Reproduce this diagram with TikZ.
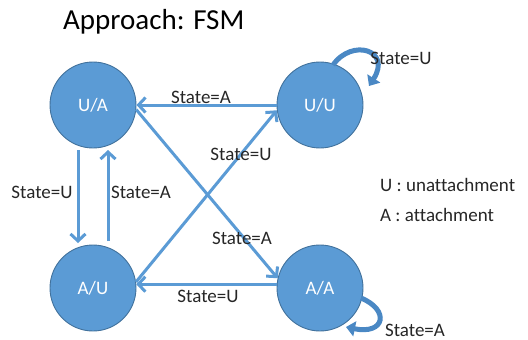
\documentclass[tikz,border=0pt]{standalone}
\usepackage{fontspec}
\setmainfont{Carlito}[Ligatures=NoCommon]
\usetikzlibrary{arrows.meta}
\definecolor{statefill}{HTML}{5B9BD5}
\definecolor{stateedge}{HTML}{41719C}
\definecolor{loopblue}{HTML}{4A88C4}
\tikzset{
  statenode/.style={circle, minimum size=86pt, inner sep=0pt, fill=statefill,
    draw=stateedge, line width=0.9pt, text=white, font=\fontsize{19}{22}\selectfont},
  trans/.style={draw=statefill, line width=3pt,
    -{Straight Barb[length=7pt,width=15pt]}},
  selfloop/.style={draw=loopblue, line width=5pt,
    -{Triangle[length=9pt,width=15pt]}},
  lbl/.style={font=\fontsize{19}{22}\selectfont, inner sep=0pt, text=black!85},
}
\begin{document}
\begin{tikzpicture}[x=1pt,y=-1pt]
  \useasboundingbox (0,0) rectangle (528,340);

  % title
  \node[anchor=base west, inner sep=0pt, font=\fontsize{29}{32}\selectfont] (title) at (63,29) {Approach: FSM};

  % states
  \node[statenode] (UA) at (93,105) {U/A};
  \node[statenode] (UU) at (320,105) {U/U};
  \node[statenode] (AU) at (93,288) {A/U};
  \node[statenode] (AA) at (320,288) {A/A};

  % transitions
  \draw[trans] (UU.west) -- (UA.east);
  \draw[trans] (AA.175) -- (AU.5);
  \draw[trans] (UA.-6) -- (AA.167);
  \draw[trans] (AU.8) -- (UU.187);
  \draw[trans] ([xshift=-15pt,yshift=-45pt]UA.center) -- ([xshift=-15pt,yshift=45pt]AU.center);
  \draw[trans] ([xshift=15pt,yshift=47pt]AU.center) -- ([xshift=15pt,yshift=-45pt]UA.center);

  % self loops
  \coordinate (uuloopA) at (333,65);
  \coordinate (uuloopB) at (369,86);
  \draw[selfloop] (uuloopA) .. controls (352,38) and (392,50) .. (uuloopB);
  \coordinate (aaloopA) at (361,298);
  \coordinate (aaloopB) at (346,327);
  \draw[selfloop] (aaloopA) .. controls (390,310) and (385,335) .. (aaloopB);

  % transition labels
  \node[lbl] (lTop) at (201,97) {State=A};
  \node[lbl] (lMidU) at (241,154) {State=U};
  \node[lbl] (lLeftU) at (42,192) {State=U};
  \node[lbl] (lLeftA) at (141,192) {State=A};
  \node[lbl] (lMidA) at (242,238) {State=A};
  \node[lbl] (lBot) at (208,296) {State=U};
  \node[lbl] (lLoopU) at (401,58) {State=U};
  \node[lbl] (lLoopA) at (415,330) {State=A};

  % legend
  \node[lbl, anchor=west] (legU) at (380,185) {U : unattachment};
  \node[lbl, anchor=west] (legA) at (380,215) {A : attachment};
\end{tikzpicture}
\end{document}
